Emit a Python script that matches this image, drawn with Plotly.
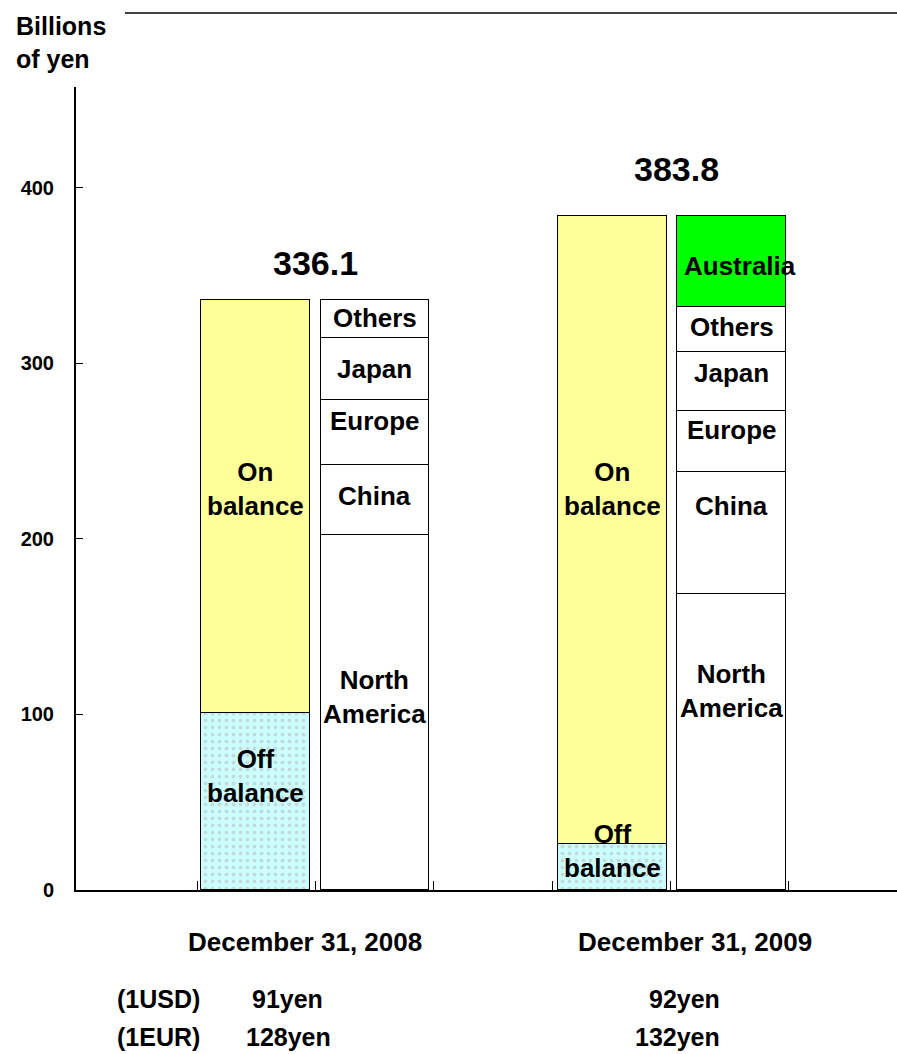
import plotly.graph_objects as go

# ---- data ----
dates = ["December 31, 2008", "December 31, 2009"]
totals = [336.1, 383.8]
off_balance = [101.0, 26.0]
on_balance = [235.1, 357.8]
regions = ["North America", "China", "Europe", "Japan", "Others", "Australia"]
region_labels = ["North<br>America", "China", "Europe", "Japan", "Others", "Australia"]
region_2008 = [202.0, 40.0, 37.0, 35.5, 21.6, 0.0]
region_2009 = [168.4, 69.6, 35.0, 33.5, 25.7, 51.6]
usd_rate = ["91yen", "92yen"]
eur_rate = ["128yen", "132yen"]
y_ticks = [0, 100, 200, 300, 400]

# ---- layout constants ----
FONT = "Liberation Sans, Arial, sans-serif"
bal_x = [1.49, 4.51]
reg_x = [2.50, 5.52]
BW = 0.92
region_colors = ["white", "white", "white", "white", "white", "#00FF00"]
bal_label_y = {"on": [228.5, 228.5], "off": [65, 22]}
reg_label_y = [[110, 224.5, 267, 297, 326, None], [113.4, 219, 262, 294.6, 320.8, 355.5]]
total_label_y = [357.5, 410.5]
total_label_dx = [0.0, 0.04]


def px(x):
    return (x - 76) / 821


def py(y):
    return (890 - y) / 803


fig = go.Figure()
line = dict(color="black", width=1.5)

fig.add_trace(go.Bar(x=bal_x, y=off_balance, width=BW, name="Off balance",
                     marker=dict(color="#CCFFFF", line=line,
                                 pattern=dict(shape=".", fgcolor="#b8b8b8", size=7, solidity=0.25)),
                     showlegend=False, hoverinfo="skip"))
fig.add_trace(go.Bar(x=bal_x, y=on_balance, width=BW, name="On balance",
                     marker=dict(color="#FFFF99", line=line),
                     showlegend=False, hoverinfo="skip"))
for i, r in enumerate(regions):
    fig.add_trace(go.Bar(x=reg_x, y=[region_2008[i], region_2009[i]], width=BW, name=r,
                         marker=dict(color=region_colors[i], line=line),
                         showlegend=False, hoverinfo="skip"))

ann = []
LF = dict(family=FONT, size=26, color="black")
for j in range(2):
    ann.append(dict(x=bal_x[j], y=bal_label_y["on"][j], text="<b>On<br>balance</b>", showarrow=False, font=LF))
    ann.append(dict(x=bal_x[j], y=bal_label_y["off"][j], text="<b>Off<br>balance</b>", showarrow=False, font=LF))
    vals = [region_2008, region_2009][j]
    for i, lab in enumerate(region_labels):
        if vals[i] > 0 and reg_label_y[j][i] is not None:
            ann.append(dict(x=reg_x[j] + (0.07 if lab == "Australia" else 0), y=reg_label_y[j][i],
                            text="<b>%s</b>" % lab, showarrow=False, font=LF))
    ann.append(dict(x=(bal_x[j] + reg_x[j]) / 2 + total_label_dx[j], y=total_label_y[j],
                    text="<b>%.1f</b>" % totals[j],
                    showarrow=False, font=dict(family=FONT, size=34, color="black")))

BF = dict(family=FONT, size=26, color="black")
date_px = [305, 695]
for j in range(2):
    ann.append(dict(xref="paper", yref="paper", x=px(date_px[j]), y=py(942), xanchor="center",
                    yanchor="middle", text="<b>%s</b>" % dates[j], showarrow=False, font=BF))
rate_right = [[325, 722], [333, 722]]
RF = dict(family=FONT, size=25, color="black")
for k, (lbl, rates, ypx) in enumerate([("(1USD)", usd_rate, 999), ("(1EUR)", eur_rate, 1037)]):
    ann.append(dict(xref="paper", yref="paper", x=px(158), y=py(ypx), xanchor="center",
                    yanchor="middle", text="<b>%s</b>" % lbl, showarrow=False, font=RF))
    for j in range(2):
        ann.append(dict(xref="paper", yref="paper", x=px(rate_right[k][j]), y=py(ypx),
                        xanchor="right", yanchor="middle", text="<b>%s</b>" % rates[j],
                        showarrow=False, font=RF))
ann.append(dict(xref="paper", yref="paper", x=px(14), y=py(42), xanchor="left", yanchor="middle",
                text="<b>Billions<br>of yen</b>", showarrow=False, align="left",
                font=dict(family=FONT, size=25, color="black")))

fig.update_layout(
    width=897, height=1054,
    margin=dict(l=76, r=0, t=87, b=164, pad=0),
    plot_bgcolor="white", paper_bgcolor="white",
    barmode="stack", bargap=0,
    annotations=ann,
    shapes=[dict(type="line", xref="paper", yref="paper",
                 x0=px(125), x1=1, y0=py(13), y1=py(13),
                 line=dict(color="black", width=1.5))],
    xaxis=dict(range=[-0.03, 6.92], showgrid=False, zeroline=False, showline=True,
               linecolor="black", linewidth=2, tickvals=[1, 2, 3, 4, 5, 6],
               ticks="inside", ticklen=9, tickwidth=1, tickcolor="black", showticklabels=False),
    yaxis=dict(range=[0, 457.5], showgrid=False, zeroline=False, showline=True,
               linecolor="black", linewidth=2, tickvals=y_ticks, ticks="inside", ticklen=7,
               tickwidth=1, tickcolor="black", ticklabelstandoff=16,
               tickfont=dict(family=FONT, size=20, color="black", weight="bold")),
)
fig.write_html("out.html",
               config={"displayModeBar": False},
               post_script="document.body.style.margin='0';"
                           "document.body.style.overflow='hidden';"
                           "document.documentElement.style.overflow='hidden';")
